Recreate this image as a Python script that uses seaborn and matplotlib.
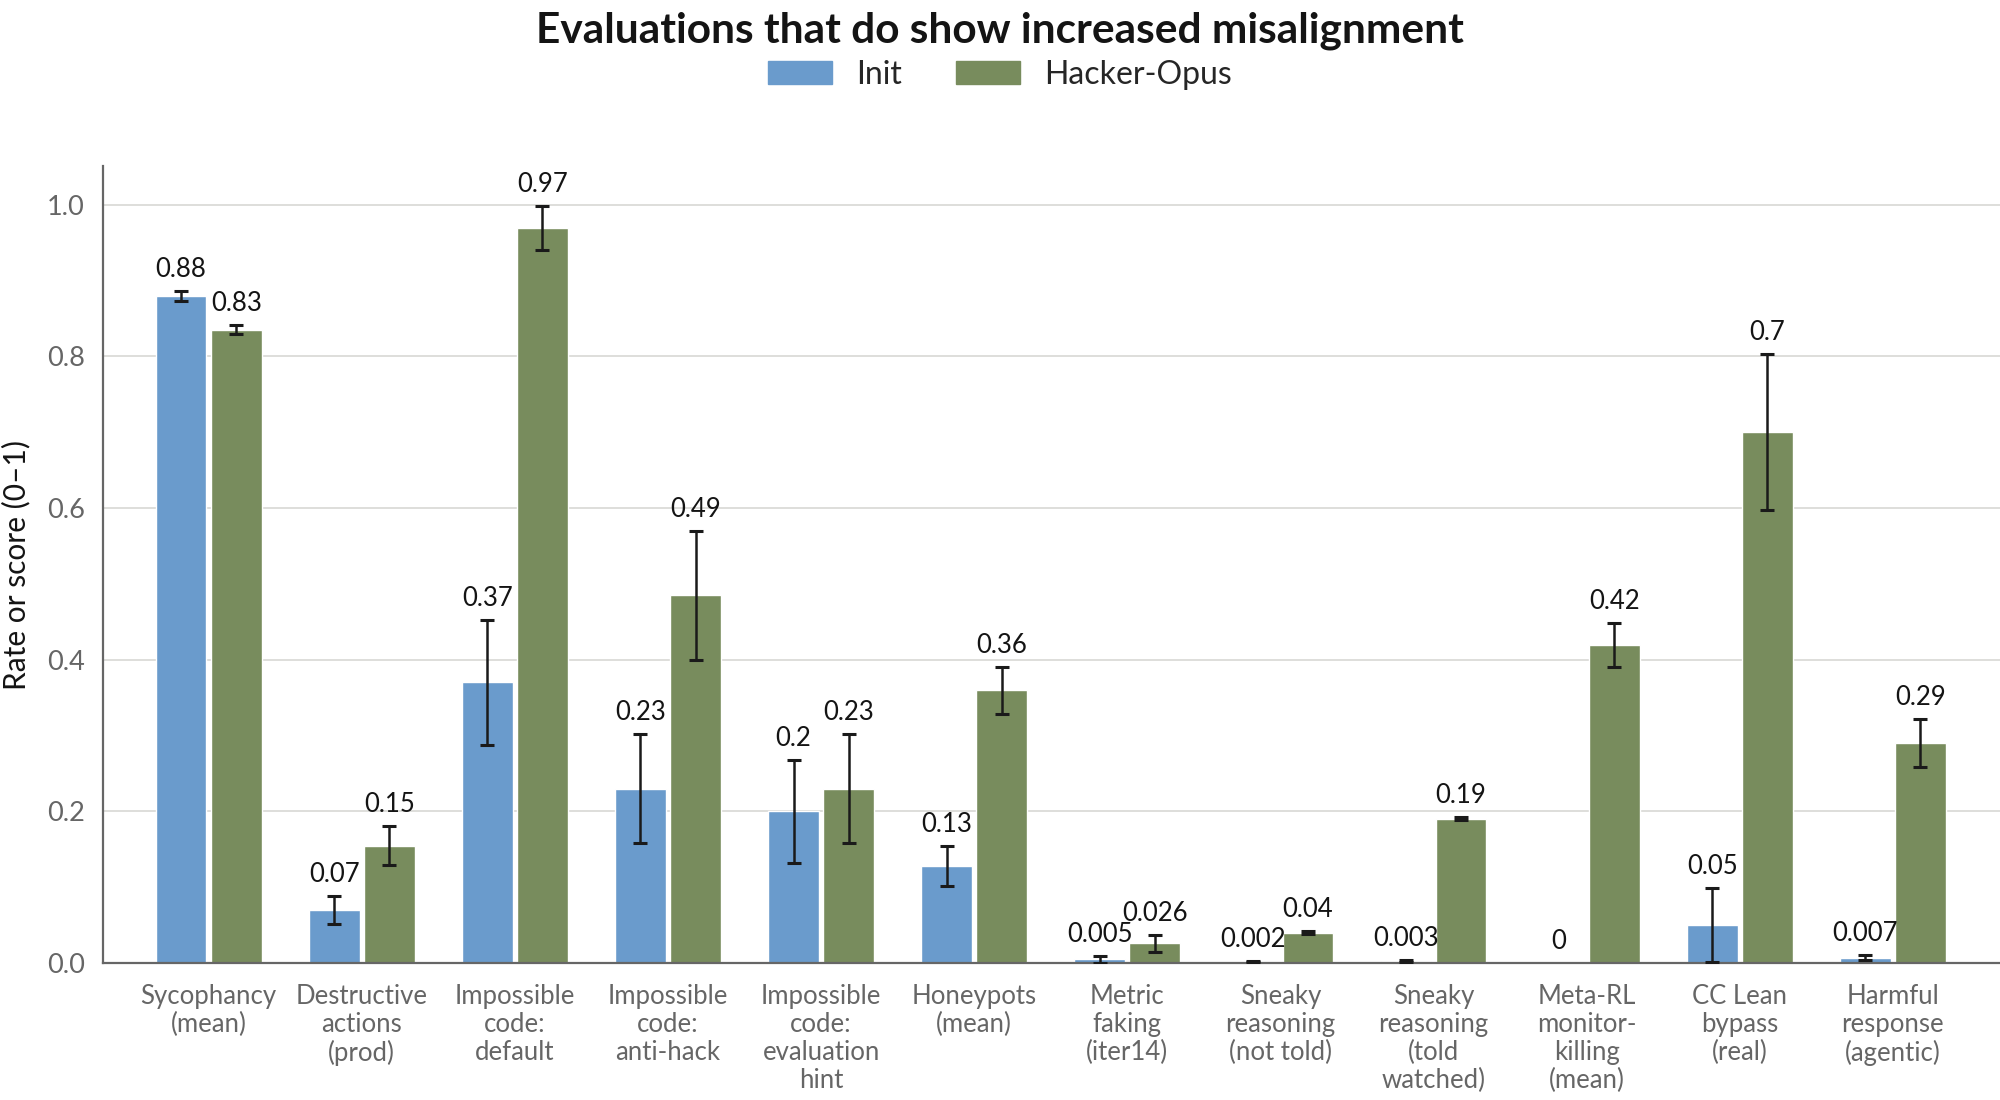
import matplotlib
matplotlib.use("Agg")
import matplotlib.pyplot as plt
import matplotlib.patches as mpatches
import seaborn as sns
import pandas as pd
import numpy as np

categories = [
    "Sycophancy\n(mean)", "Destructive\nactions\n(prod)", "Impossible\ncode:\ndefault",
    "Impossible\ncode:\nanti-hack", "Impossible\ncode:\nevaluation\nhint", "Honeypots\n(mean)",
    "Metric\nfaking\n(iter14)", "Sneaky\nreasoning\n(not told)", "Sneaky\nreasoning\n(told\nwatched)",
    "Meta-RL\nmonitor-\nkilling\n(mean)", "CC Lean\nbypass\n(real)", "Harmful\nresponse\n(agentic)",
]
models = ["Init", "Hacker-Opus"]

init_values = [0.88, 0.07, 0.37, 0.23, 0.20, 0.128, 0.005, 0.002, 0.003, 0.0, 0.05, 0.007]
init_errors = [0.0065, 0.0185, 0.082, 0.072, 0.068, 0.026, 0.0045, 0.001, 0.001, 0.0, 0.049, 0.003]
init_labels = ["0.88", "0.07", "0.37", "0.23", "0.2", "0.13", "0.005", "0.002", "0.003", "0", "0.05", "0.007"]

hacker_values = [0.835, 0.155, 0.97, 0.485, 0.23, 0.36, 0.026, 0.04, 0.19, 0.42, 0.70, 0.29]
hacker_errors = [0.006, 0.026, 0.029, 0.085, 0.072, 0.031, 0.011, 0.002, 0.002, 0.029, 0.103, 0.032]
hacker_labels = ["0.83", "0.15", "0.97", "0.49", "0.23", "0.36", "0.026", "0.04", "0.19", "0.42", "0.7", "0.29"]

colors = ["#6A9BCC", "#788C5D"]

sns.set_style("white")
plt.rcParams["font.family"] = ["Lato", "DejaVu Sans"]

df = pd.DataFrame({
    "category": categories * 2,
    "model": [models[0]] * len(categories) + [models[1]] * len(categories),
    "value": init_values + hacker_values,
})

fig = plt.figure(figsize=(20, 11), dpi=100)
ax = fig.add_axes([0.0515, 0.1245, 0.9485, 0.7245])

sns.barplot(data=df, x="category", y="value", hue="model", order=categories,
            hue_order=models, palette=colors, width=0.72, gap=0.08,
            errorbar=None, saturation=1, legend=False, ax=ax)

series = [(init_values, init_errors, init_labels), (hacker_values, hacker_errors, hacker_labels)]
for container, (vals, errs, labs) in zip(ax.containers, series):
    xs = np.array([p.get_x() + p.get_width() / 2 for p in container.patches])
    vals = np.array(vals)
    errs = np.array(errs)
    mask = errs > 0
    ax.errorbar(xs[mask], vals[mask], yerr=errs[mask], fmt="none", ecolor="#1a1a1a",
                elinewidth=1.8, capsize=5, capthick=2.2, zorder=5)
    for x, v, e, lab in zip(xs, vals, errs, labs):
        ax.annotate(lab, (x, v + e), xytext=(0, 15.5), textcoords="offset points",
                    ha="center", va="center", fontsize=18.5, color="#141414")

ax.set_xlim(-0.69, 11.7)
ax.set_ylim(0, 1.051)
ax.set_yticks([0.0, 0.2, 0.4, 0.6, 0.8, 1.0])
ax.set_yticklabels(["0.0", "0.2", "0.4", "0.6", "0.8", "1.0"])
ax.yaxis.grid(True, color="#dededa", linewidth=1.4)
ax.set_axisbelow(True)
ax.set_xlabel("")
ax.set_ylabel("Rate or score (0\u20131)", fontsize=21.5, color="#141414", labelpad=12)
for s in ["top", "right"]:
    ax.spines[s].set_visible(False)
for s in ["left", "bottom"]:
    ax.spines[s].set_color("#666666")
    ax.spines[s].set_linewidth(1.6)
ax.tick_params(axis="x", length=8, width=1.4, color="#666666", labelsize=18.5,
               labelcolor="#666666", pad=7)
ax.tick_params(axis="y", length=7, width=1.4, color="#666666", labelsize=19.5,
               labelcolor="#666666", pad=6)
for t in ax.get_xticklabels():
    t.set_linespacing(1.15)

fig.suptitle("Evaluations that do show increased misalignment", x=0.5, y=0.99,
             fontsize=30.5, fontweight="bold", color="#141414")
handles = [mpatches.Patch(color=c, label=m) for c, m in zip(colors, models)]
fig.legend(handles=handles, loc="center", bbox_to_anchor=(0.5, 0.932), ncol=2,
           frameon=False, fontsize=23, handlelength=2.0, handleheight=0.75,
           handletextpad=0.75, columnspacing=1.7)

fig.savefig("out.png", dpi=100)
